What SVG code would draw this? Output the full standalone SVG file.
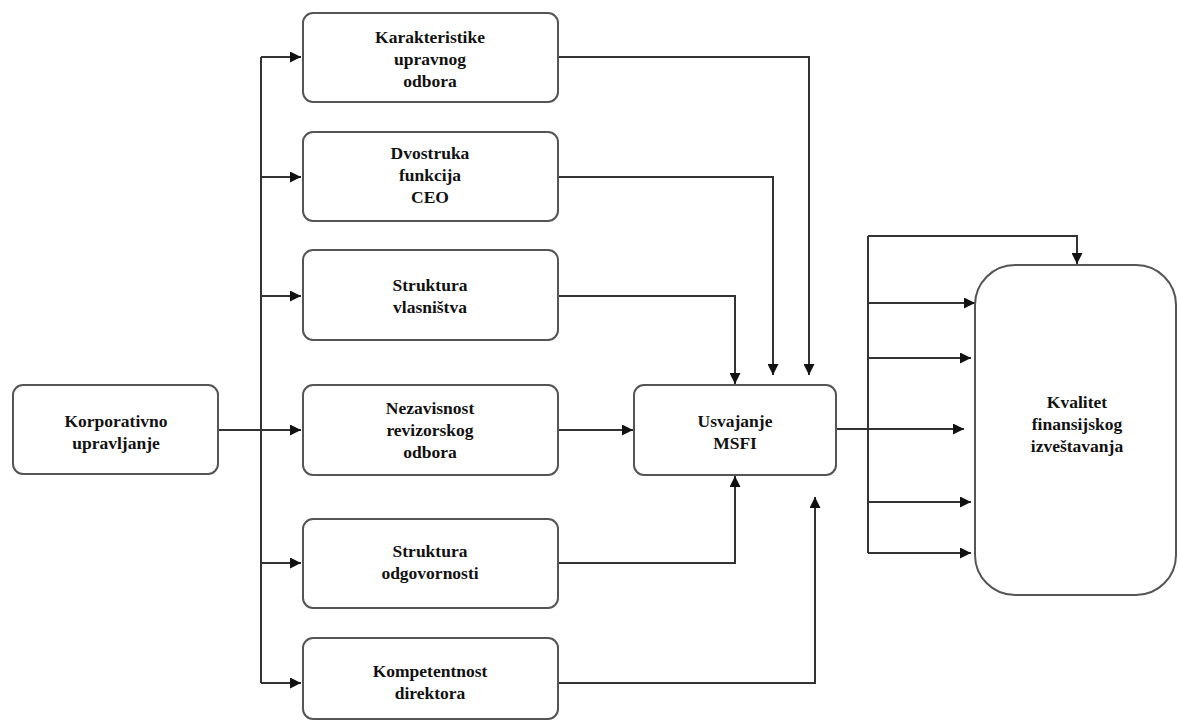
<svg xmlns="http://www.w3.org/2000/svg" width="1178" height="725" viewBox="0 0 1178 725">
<style>
.box{fill:#fff;stroke:#555;stroke-width:2}
.t{font-family:"Liberation Serif","Times New Roman",serif;font-weight:bold;font-size:17.5px;fill:#111;text-anchor:middle}
.c{fill:none;stroke:#333;stroke-width:2}
</style>
<defs>
<marker id="ah" viewBox="0 0 10 10" refX="10" refY="5" markerWidth="11" markerHeight="11" markerUnits="userSpaceOnUse" orient="auto">
<path d="M0,0 L10,5 L0,10 Z" fill="#111"/>
</marker>
</defs>
<rect width="1178" height="725" fill="#fff"/>
<g id="connectors">
<path class="c" d="M218,430 H301" marker-end="url(#ah)"/>
<path class="c" d="M261,57 V683"/>
<path class="c" d="M261,57 H301" marker-end="url(#ah)"/>
<path class="c" d="M261,177 H301" marker-end="url(#ah)"/>
<path class="c" d="M261,296 H301" marker-end="url(#ah)"/>
<path class="c" d="M261,563 H301" marker-end="url(#ah)"/>
<path class="c" d="M261,683 H301" marker-end="url(#ah)"/>
<path class="c" d="M558,57 H809 V375" marker-end="url(#ah)"/>
<path class="c" d="M558,177 H773 V375" marker-end="url(#ah)"/>
<path class="c" d="M558,296 H735 V384" marker-end="url(#ah)"/>
<path class="c" d="M558,430 H633" marker-end="url(#ah)"/>
<path class="c" d="M558,563 H735 V476" marker-end="url(#ah)"/>
<path class="c" d="M558,683 H815 V497" marker-end="url(#ah)"/>
<path class="c" d="M836,429 H964" marker-end="url(#ah)"/>
<path class="c" d="M868,236 V553"/>
<path class="c" d="M868,236 H1077 V264" marker-end="url(#ah)"/>
<path class="c" d="M868,303 H975" marker-end="url(#ah)"/>
<path class="c" d="M868,358 H971" marker-end="url(#ah)"/>
<path class="c" d="M868,502 H971" marker-end="url(#ah)"/>
<path class="c" d="M868,553 H971" marker-end="url(#ah)"/>
</g>
<g id="korporativno">
<rect class="box" x="13" y="385" width="205" height="89" rx="10"/>
<text class="t" x="116" y="427">Korporativno</text>
<text class="t" x="116" y="449">upravljanje</text>
</g>
<g id="karakteristike">
<rect class="box" x="303" y="13" width="255" height="89" rx="10"/>
<text class="t" x="430" y="43">Karakteristike</text>
<text class="t" x="430" y="65">upravnog</text>
<text class="t" x="430" y="87">odbora</text>
</g>
<g id="dvostruka">
<rect class="box" x="303" y="132" width="255" height="89" rx="10"/>
<text class="t" x="430" y="159">Dvostruka</text>
<text class="t" x="430" y="181">funkcija</text>
<text class="t" x="430" y="203">CEO</text>
</g>
<g id="struktura-vlasnistva">
<rect class="box" x="303" y="250" width="255" height="90" rx="10"/>
<text class="t" x="430" y="291">Struktura</text>
<text class="t" x="430" y="313">vlasništva</text>
</g>
<g id="nezavisnost">
<rect class="box" x="303" y="385" width="255" height="90" rx="10"/>
<text class="t" x="430" y="414">Nezavisnost</text>
<text class="t" x="430" y="436">revizorskog</text>
<text class="t" x="430" y="458">odbora</text>
</g>
<g id="struktura-odgovornosti">
<rect class="box" x="303" y="519" width="255" height="89" rx="10"/>
<text class="t" x="430" y="557">Struktura</text>
<text class="t" x="430" y="579">odgovornosti</text>
</g>
<g id="kompetentnost">
<rect class="box" x="303" y="638" width="255" height="81" rx="10"/>
<text class="t" x="430" y="677">Kompetentnost</text>
<text class="t" x="430" y="699">direktora</text>
</g>
<g id="msfi">
<rect class="box" x="634" y="385" width="202" height="90" rx="10"/>
<text class="t" x="735" y="427">Usvajanje</text>
<text class="t" x="735" y="449">MSFI</text>
</g>
<g id="kvalitet">
<rect class="box" x="975" y="265" width="201" height="330" rx="40"/>
<text class="t" x="1077" y="408">Kvalitet</text>
<text class="t" x="1077" y="430">finansijskog</text>
<text class="t" x="1077" y="452">izveštavanja</text>
</g>
</svg>
